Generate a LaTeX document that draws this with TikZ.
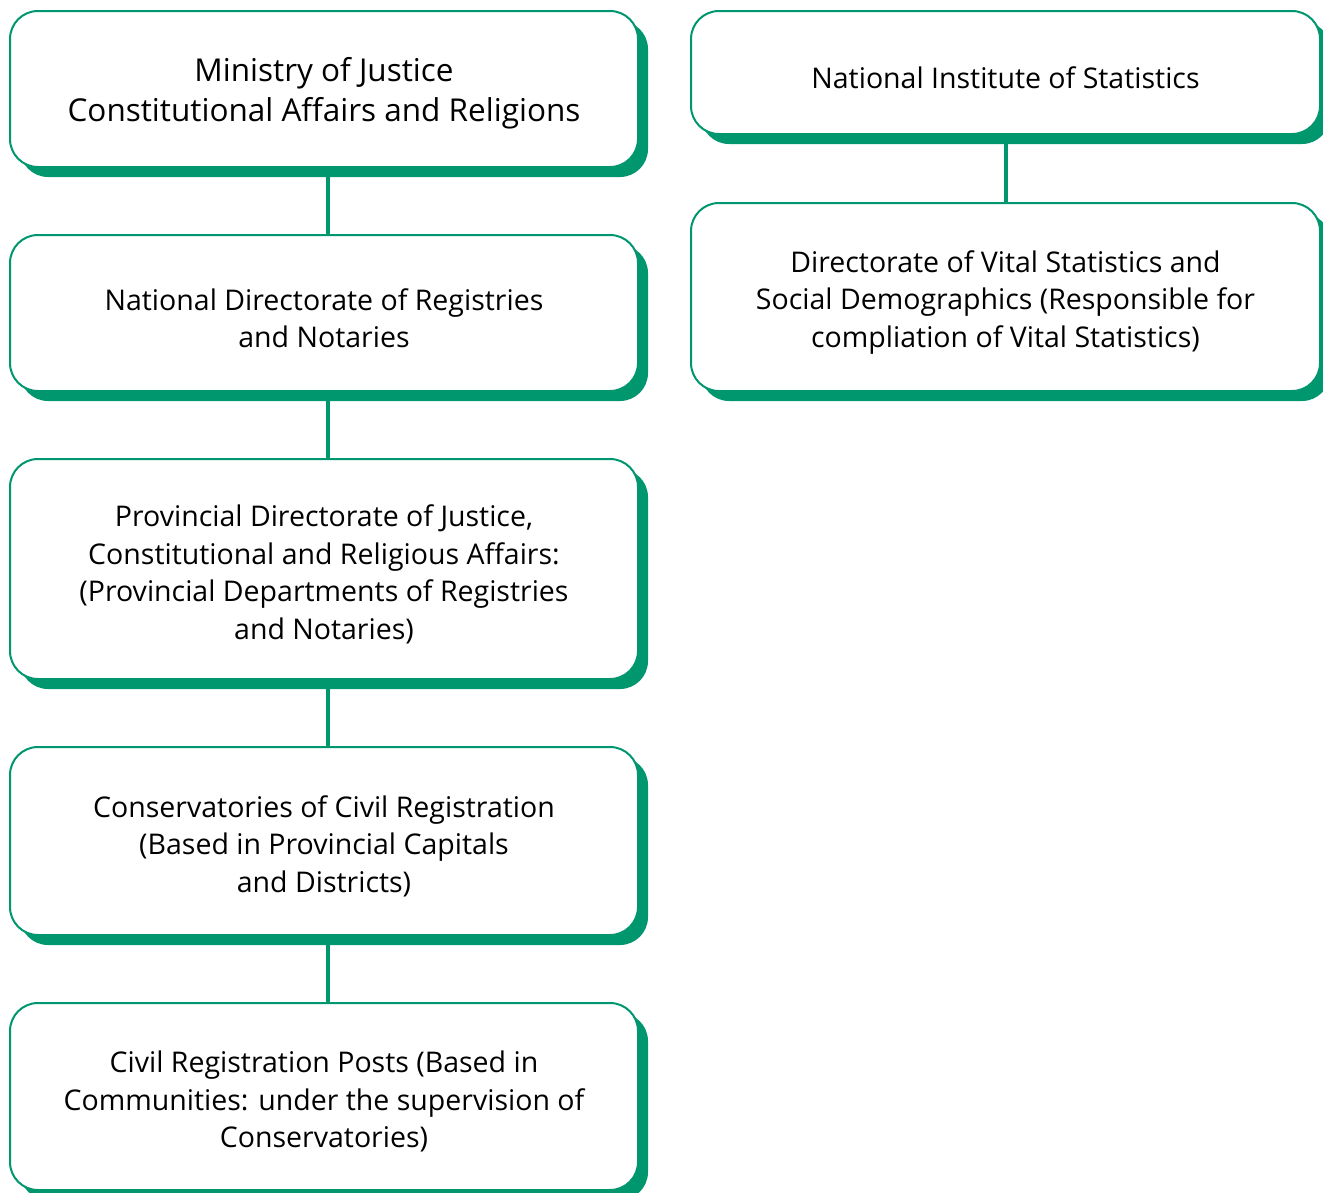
\documentclass[tikz,border=0pt]{standalone}
\usepackage{fontspec}
\setmainfont{Open Sans}
\usetikzlibrary{shadows}
\definecolor{regreen}{RGB}{0,150,110}
\tikzset{
  orgbox/.style={draw=regreen, line width=2pt, rounded corners=28pt, fill=white,
    minimum width=628pt, align=center, font=\fontsize{28.5}{37.5}\selectfont,
    drop shadow={shadow xshift=10pt, shadow yshift=-10pt, fill=regreen, opacity=1}},
  link/.style={draw=regreen, line width=4pt}
}
% taller first line pushes the text down a little
\newcommand{\toprule}{\rule{0pt}{32pt}}
\begin{document}
\begin{tikzpicture}[x=1pt,y=-1pt]
	\useasboundingbox (0,0) rectangle (1323,1192);
	% left column
	\node[orgbox, minimum height=156pt, font=\fontsize{31.5}{40}\selectfont] (ministry) at (324,89) {\toprule Ministry of Justice\\Constitutional Affairs and Religions};
	\node[orgbox, minimum height=156pt] (natdir) at (324,313) {\toprule National Directorate of Registries\\and Notaries};
	\node[orgbox, minimum height=220pt] (provdir) at (324,569) {\toprule Provincial Directorate of Justice,\\Constitutional and Religious Affairs:\\(Provincial Departments of Registries\\and Notaries)};
	\node[orgbox, minimum height=188pt] (conserv) at (324,841) {\toprule Conservatories of Civil Registration\\(Based in Provincial Capitals\\and Districts)};
	\node[orgbox, minimum height=187pt] (posts) at (324,1096.5) {\toprule Civil Registration Posts (Based in\\Communities: under the supervision of\\Conservatories)};
	% right column
	\node[orgbox, minimum width=629pt, minimum height=123pt] (ine) at (1005.5,72.5) {\toprule National Institute of Statistics};
	\node[orgbox, minimum width=629pt, minimum height=188pt] (vital) at (1005.5,297) {\toprule Directorate of Vital Statistics and\\Social Demographics (Responsible for\\compliation of Vital Statistics)};
	% links
	\draw[link] ([xshift=4pt]ministry.south) -- ([xshift=4pt]natdir.north);
	\draw[link] ([xshift=4pt]natdir.south) -- ([xshift=4pt]provdir.north);
	\draw[link] ([xshift=4pt]provdir.south) -- ([xshift=4pt]conserv.north);
	\draw[link] ([xshift=4pt]conserv.south) -- ([xshift=4pt]posts.north);
	\draw[link] (ine.south) -- (vital.north);
\end{tikzpicture}
\end{document}
